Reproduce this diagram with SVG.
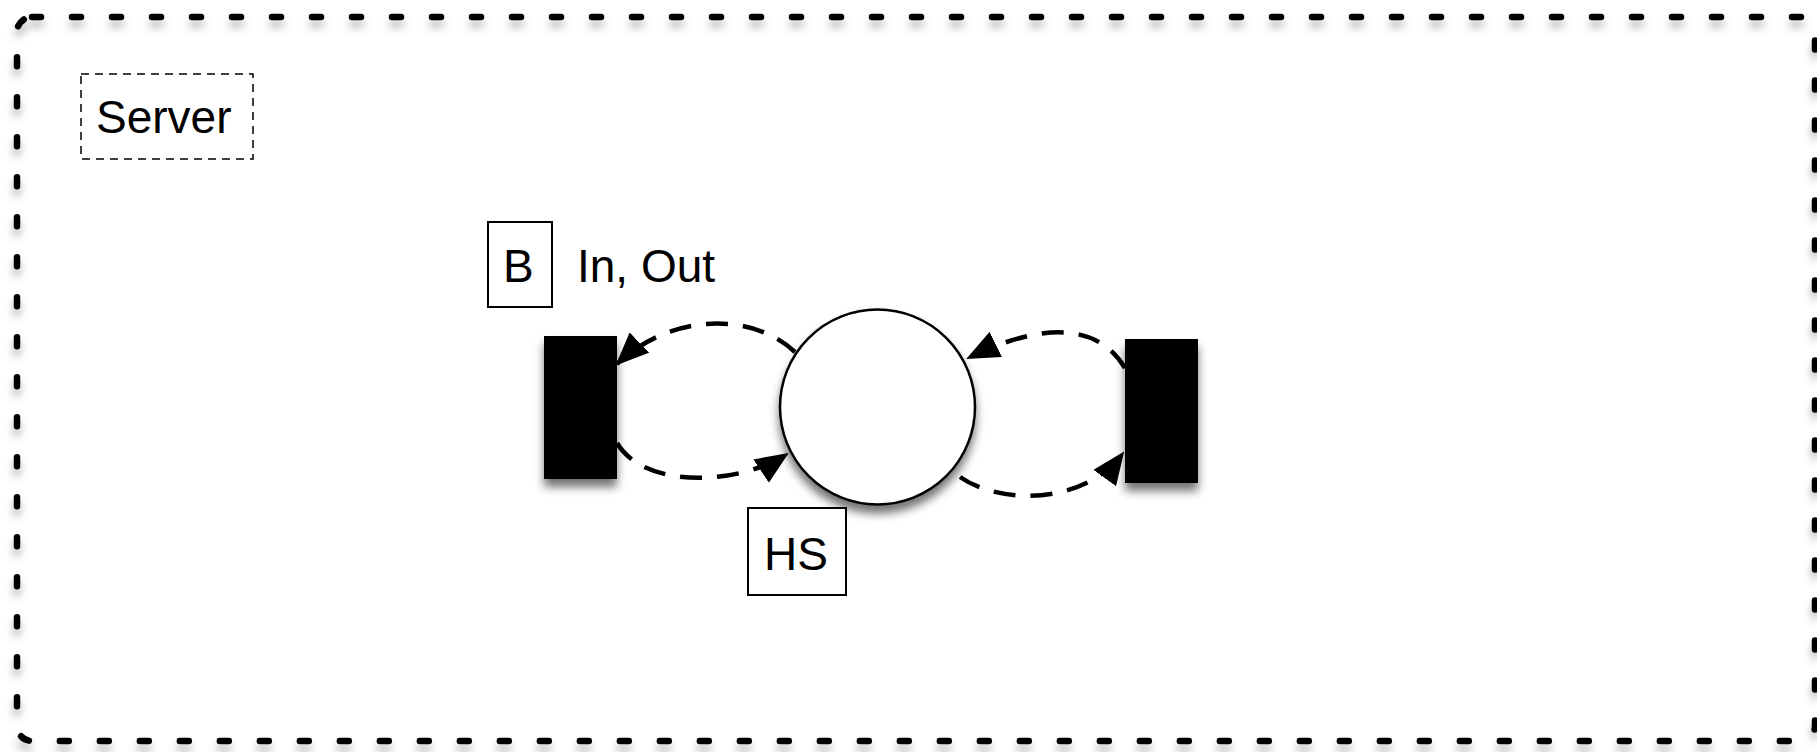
<svg xmlns="http://www.w3.org/2000/svg" width="1817" height="752" viewBox="0 0 1817 752">
<style>
.lbl{font-family:"Liberation Sans",Arial,sans-serif;font-size:46px;fill:#000}
.box{fill:#fff;stroke:#000;stroke-width:2}
.conn{fill:none;stroke:#000;stroke-width:4.5;stroke-dasharray:22 15}
.blk{fill:#000;filter:url(#sh)}
</style>
<defs>
<filter id="sh" x="-30%" y="-30%" width="160%" height="160%">
<feDropShadow dx="0" dy="8" stdDeviation="5" flood-color="#000" flood-opacity="0.55"/>
</filter>
<filter id="shb" x="-5%" y="-5%" width="110%" height="110%">
<feDropShadow dx="0" dy="7" stdDeviation="4" flood-color="#000" flood-opacity="0.3"/>
</filter>
<marker id="ah" markerUnits="userSpaceOnUse" markerWidth="36" markerHeight="30" refX="31" refY="14" orient="auto">
<path d="M0,0 L33,14 L0,28 Z" fill="#000"/>
</marker>
</defs>
<rect width="1817" height="752" fill="#fff"/>
<g id="server-boundary">
<rect x="17" y="17" width="1798" height="724" rx="15" fill="none" stroke="#000" stroke-width="6.5" stroke-dasharray="9 31" stroke-linecap="round" filter="url(#shb)"/>
</g>
<g id="server-label">
<rect x="81" y="74" width="172" height="85" fill="#fff" stroke="#000" stroke-width="1.5" stroke-dasharray="8 6"/>
<text class="lbl" x="96" y="133">Server</text>
</g>
<g id="b-label">
<rect class="box" x="488" y="222" width="64" height="85"/>
<text class="lbl" x="503" y="282">B</text>
<text class="lbl" x="577" y="282">In, Out</text>
</g>
<g id="left-transition">
<rect class="blk" x="544" y="336" width="73" height="143"/>
</g>
<g id="place">
<circle cx="877.5" cy="407" r="97.5" fill="#fff" stroke="#000" stroke-width="2.5" filter="url(#sh)"/>
</g>
<g id="right-transition">
<rect class="blk" x="1125" y="339" width="73" height="144"/>
</g>
<g id="hs-label">
<rect class="box" x="748" y="508" width="98" height="87"/>
<text class="lbl" x="764" y="570">HS</text>
</g>
<g id="connectors">
<path class="conn" marker-end="url(#ah)" d="M795,352 C750,310 668,315 617,364"/>
<path class="conn" marker-end="url(#ah)" d="M617,443 C645,490 740,485 787,454"/>
<path class="conn" marker-end="url(#ah)" d="M1125,368 C1090,310 1015,335 968,358"/>
<path class="conn" marker-end="url(#ah)" d="M960,477 C1000,505 1085,505 1123,453"/>
</g>
</svg>
